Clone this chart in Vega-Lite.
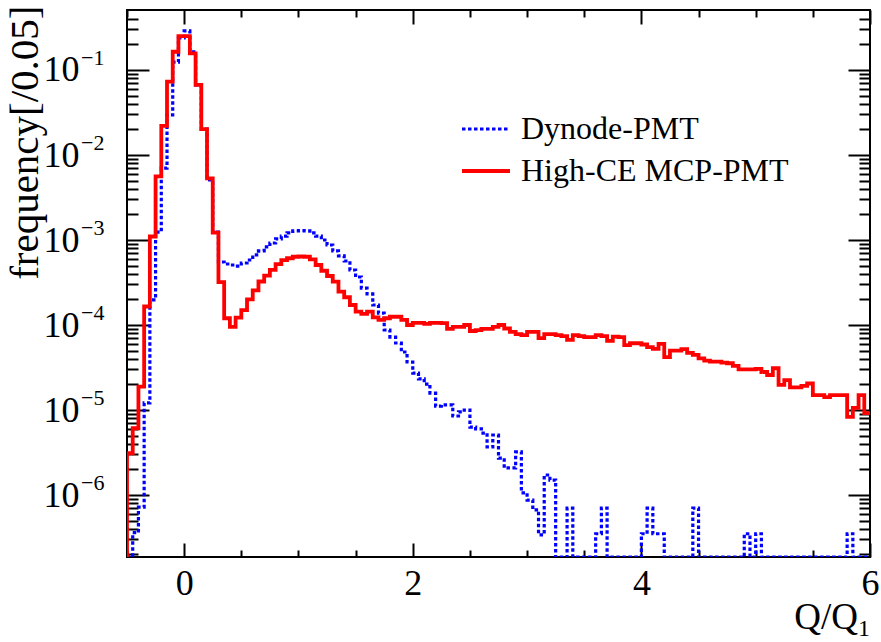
{
 "$schema":"https://vega.github.io/schema/vega-lite/v6.json",
 "width":743,"height":547,
 "autosize":{"type":"none"},
 "padding":{"left":127,"top":10,"right":11,"bottom":85},
 "background":"white",
 "config":{
  "view":{"stroke":"#000","strokeWidth":2},
  "font":"Liberation Serif",
  "axis":{"domain":false,"grid":false,"tickColor":"#000","tickWidth":2,"labelColor":"#000","labelFont":"Liberation Serif","labelFlush":false,"labelOverlap":false,"labelBound":false}
 },
 "datasets":{
  "hist":[
{"x":-0.5,"d":0,"h":0},
{"x":-0.5,"d":0,"h":3.1e-6},
{"x":-0.45,"d":3.6e-7,"h":6.1e-6},
{"x":-0.4,"d":7.2e-7,"h":1.88e-5},
{"x":-0.35,"d":1.21e-5,"h":1.65e-4},
{"x":-0.3,"d":1.97e-4,"h":1.1e-3},
{"x":-0.25,"d":1.24e-3,"h":5.6e-3},
{"x":-0.2,"d":7.0e-3,"h":0.022},
{"x":-0.15,"d":0.0296,"h":0.073},
{"x":-0.1,"d":0.124,"h":0.164},
{"x":-0.05,"d":0.238,"h":0.25},
{"x":0,"d":0.288,"h":0.25},
{"x":0.05,"d":0.163,"h":0.157},
{"x":0.1,"d":0.0667,"h":0.0667},
{"x":0.15,"d":0.0202,"h":0.0202},
{"x":0.2,"d":0.0051,"h":0.0053},
{"x":0.25,"d":0.00124,"h":0.00122},
{"x":0.3,"d":5.51e-4,"h":3.2e-4},
{"x":0.35,"d":5.22e-4,"h":1.2e-4},
{"x":0.4,"d":5.08e-4,"h":9.5e-5},
{"x":0.45,"d":4.94e-4,"h":1.22e-4},
{"x":0.5,"d":5.36e-4,"h":1.5e-4},
{"x":0.55,"d":5.82e-4,"h":2.0e-4},
{"x":0.6,"d":6.67e-4,"h":2.55e-4},
{"x":0.65,"d":7.43e-4,"h":3.25e-4},
{"x":0.7,"d":8.28e-4,"h":3.8e-4},
{"x":0.75,"d":9.22e-4,"h":4.45e-4},
{"x":0.8,"d":1.03e-3,"h":5.2e-4},
{"x":0.85,"d":1.11e-3,"h":5.8e-4},
{"x":0.9,"d":1.21e-3,"h":6.1e-4},
{"x":0.95,"d":1.28e-3,"h":6.35e-4},
{"x":1.0,"d":1.29e-3,"h":6.4e-4},
{"x":1.05,"d":1.28e-3,"h":6.35e-4},
{"x":1.1,"d":1.21e-3,"h":5.93e-4},
{"x":1.15,"d":1.11e-3,"h":5.08e-4},
{"x":1.2,"d":1.0e-3,"h":4.35e-4},
{"x":1.25,"d":8.73e-4,"h":3.77e-4},
{"x":1.3,"d":7.43e-4,"h":3.24e-4},
{"x":1.35,"d":6.49e-4,"h":2.47e-4},
{"x":1.4,"d":5.66e-4,"h":2.12e-4},
{"x":1.45,"d":4.44e-4,"h":1.72e-4},
{"x":1.5,"d":3.67e-4,"h":1.44e-4},
{"x":1.55,"d":2.72e-4,"h":1.35e-4},
{"x":1.6,"d":2.32e-4,"h":1.44e-4},
{"x":1.65,"d":1.72e-4,"h":1.23e-4},
{"x":1.7,"d":1.38e-4,"h":1.15e-4},
{"x":1.75,"d":8.73e-5,"h":1.2e-4},
{"x":1.8,"d":7.22e-5,"h":1.25e-4},
{"x":1.85,"d":6.14e-5,"h":1.25e-4},
{"x":1.9,"d":4.81e-5,"h":1.15e-4},
{"x":1.95,"d":3.67e-5,"h":1.0e-4},
{"x":2.0,"d":2.72e-5,"h":1.06e-4},
{"x":2.05,"d":2.32e-5,"h":1.06e-4},
{"x":2.1,"d":2.02e-5,"h":1.03e-4},
{"x":2.15,"d":1.58e-5,"h":1.06e-4},
{"x":2.2,"d":1.11e-5,"h":1.06e-4},
{"x":2.25,"d":1.15e-5,"h":1.05e-4},
{"x":2.3,"d":1.15e-5,"h":9.0e-5},
{"x":2.35,"d":8.5e-6,"h":9.5e-5},
{"x":2.4,"d":9.5e-6,"h":9.5e-5},
{"x":2.45,"d":1.0e-5,"h":1.0e-4},
{"x":2.5,"d":6.3e-6,"h":8.5e-5},
{"x":2.55,"d":6.0e-6,"h":8.7e-5},
{"x":2.6,"d":5.36e-6,"h":9.0e-5},
{"x":2.65,"d":3.67e-6,"h":9.0e-5},
{"x":2.7,"d":5.08e-6,"h":9.5e-5},
{"x":2.75,"d":2.72e-6,"h":1.0e-4},
{"x":2.8,"d":2.08e-6,"h":9.1e-5},
{"x":2.85,"d":2.08e-6,"h":8.3e-5},
{"x":2.9,"d":3.21e-6,"h":7.8e-5},
{"x":2.95,"d":1.06e-6,"h":7.6e-5},
{"x":3.0,"d":8.7e-7,"h":8.3e-5},
{"x":3.05,"d":6.7e-7,"h":8.3e-5},
{"x":3.1,"d":3.4e-7,"h":7.0e-5},
{"x":3.15,"d":1.72e-6,"h":7.8e-5},
{"x":3.2,"d":1.5e-6,"h":7.8e-5},
{"x":3.25,"d":0,"h":7.6e-5},
{"x":3.3,"d":0,"h":7.4e-5},
{"x":3.35,"d":7.0e-7,"h":6.7e-5},
{"x":3.4,"d":0,"h":7.6e-5},
{"x":3.45,"d":0,"h":7.4e-5},
{"x":3.5,"d":0,"h":7.2e-5},
{"x":3.55,"d":0,"h":7.2e-5},
{"x":3.6,"d":3.5e-7,"h":7.6e-5},
{"x":3.65,"d":7.0e-7,"h":7.4e-5},
{"x":3.7,"d":0,"h":6.5e-5},
{"x":3.75,"d":0,"h":7.3e-5},
{"x":3.8,"d":0,"h":7.2e-5},
{"x":3.85,"d":0,"h":5.8e-5},
{"x":3.9,"d":0,"h":6.1e-5},
{"x":3.95,"d":0,"h":6.1e-5},
{"x":4.0,"d":3.5e-7,"h":5.9e-5},
{"x":4.05,"d":7.0e-7,"h":5.5e-5},
{"x":4.1,"d":3.5e-7,"h":5.25e-5},
{"x":4.15,"d":3.5e-7,"h":6.0e-5},
{"x":4.2,"d":0,"h":4.2e-5},
{"x":4.25,"d":0,"h":5.0e-5},
{"x":4.3,"d":0,"h":5.0e-5},
{"x":4.35,"d":0,"h":5.2e-5},
{"x":4.4,"d":0,"h":4.7e-5},
{"x":4.45,"d":7.0e-7,"h":4.45e-5},
{"x":4.5,"d":0,"h":4.05e-5},
{"x":4.55,"d":0,"h":3.8e-5},
{"x":4.6,"d":0,"h":3.7e-5},
{"x":4.65,"d":0,"h":3.7e-5},
{"x":4.7,"d":0,"h":3.6e-5},
{"x":4.75,"d":0,"h":3.55e-5},
{"x":4.8,"d":0,"h":3.3e-5},
{"x":4.85,"d":0,"h":3.0e-5},
{"x":4.9,"d":3.5e-7,"h":3.0e-5},
{"x":4.95,"d":0,"h":3.0e-5},
{"x":5.0,"d":3.5e-7,"h":3.05e-5},
{"x":5.05,"d":0,"h":2.8e-5},
{"x":5.1,"d":0,"h":2.58e-5},
{"x":5.15,"d":0,"h":3.1e-5},
{"x":5.2,"d":0,"h":1.98e-5},
{"x":5.25,"d":0,"h":2.25e-5},
{"x":5.3,"d":0,"h":1.85e-5},
{"x":5.35,"d":0,"h":1.85e-5},
{"x":5.4,"d":0,"h":1.92e-5},
{"x":5.45,"d":0,"h":2.05e-5},
{"x":5.5,"d":0,"h":1.5e-5},
{"x":5.55,"d":0,"h":1.5e-5},
{"x":5.6,"d":0,"h":1.42e-5},
{"x":5.65,"d":0,"h":1.5e-5},
{"x":5.7,"d":0,"h":1.5e-5},
{"x":5.75,"d":0,"h":1.5e-5},
{"x":5.8,"d":3.5e-7,"h":8.3e-6},
{"x":5.85,"d":0,"h":1.06e-5},
{"x":5.9,"d":0,"h":1.5e-5},
{"x":5.95,"d":0,"h":9.2e-6},
{"x":6.0,"d":0,"h":9.2e-6}
  ],
  "exps":[{"v":0.1,"t":"−1"},{"v":0.01,"t":"−2"},{"v":0.001,"t":"−3"},{"v":0.0001,"t":"−4"},{"v":0.00001,"t":"−5"},{"v":0.000001,"t":"−6"}]
 },
 "layer":[
  {
   "data":{"name":"hist"},
   "transform":[{"fold":["d","h"],"as":["s","v"]}],
   "mark":{"type":"line","interpolate":"step-after","clip":true,"invalid":"show"},
   "encoding":{
    "x":{"field":"x","type":"quantitative","scale":{"domain":[-0.5,6],"nice":false,"zero":false},
      "axis":{"orient":"bottom","values":[-0.5,0,0.5,1,1.5,2,2.5,3,3.5,4,4.5,5,5.5,6],
        "labelExpr":"datum.value % 2 === 0 ? format(datum.value, 'd') : ''",
        "tickSize":{"condition":{"test":"datum.value % 2 === 0","value":-14},"value":-7},
        "labelFontSize":36,"labelPadding":23,"title":null}},
    "y":{"field":"v","type":"quantitative","scale":{"type":"log","domain":[1.865e-7,0.508],"nice":false,"clamp":true},
      "axis":{"orient":"left",
        "values":[2e-7,3e-7,4e-7,5e-7,6e-7,7e-7,8e-7,9e-7,1e-6,2e-6,3e-6,4e-6,5e-6,6e-6,7e-6,8e-6,9e-6,1e-5,2e-5,3e-5,4e-5,5e-5,6e-5,7e-5,8e-5,9e-5,1e-4,2e-4,3e-4,4e-4,5e-4,6e-4,7e-4,8e-4,9e-4,0.001,0.002,0.003,0.004,0.005,0.006,0.007,0.008,0.009,0.01,0.02,0.03,0.04,0.05,0.06,0.07,0.08,0.09,0.1,0.2,0.3,0.4],
        "labelExpr":"abs(log(datum.value)/LN10 - round(log(datum.value)/LN10)) < 0.001 ? '10' : ''",
        "tickSize":{"condition":{"test":"abs(log(datum.value)/LN10 - round(log(datum.value)/LN10)) < 0.001","value":-22},"value":-11},
        "labelFontSize":36,"labelPadding":70,
        "title":"frequency[/0.05]","titleFont":"Liberation Serif","titleFontSize":41,"titleFontWeight":"normal","titleColor":"#000",
        "titleAngle":-90,"titleAlign":"right","titleBaseline":"middle","titleX":-102,"titleY":-5}},
    "color":{"field":"s","type":"nominal","scale":{"domain":["d","h"],"range":["#0000ff","#ff0000"]},
      "legend":{"orient":"none","legendX":333,"legendY":93,"title":null,"symbolType":"stroke","symbolSize":2304,"symbolStrokeWidth":3.5,
        "labelFont":"Liberation Serif","labelFontSize":32,"labelColor":"#000","labelOffset":9,"labelLimit":0,"rowPadding":-2,"padding":0,
        "labelExpr":"datum.value == 'd' ? 'Dynode-PMT' : 'High-CE MCP-PMT'"}},
    "strokeDash":{"field":"s","type":"nominal","scale":{"domain":["d","h"],"range":[[3.5,2.5],[1,0]]},
      "legend":{"orient":"none","legendX":333,"legendY":93,"title":null,"symbolType":"stroke","symbolSize":2304,"symbolStrokeWidth":3.5,
        "labelFont":"Liberation Serif","labelFontSize":32,"labelColor":"#000","labelOffset":9,"labelLimit":0,"rowPadding":-2,"padding":0,
        "labelExpr":"datum.value == 'd' ? 'Dynode-PMT' : 'High-CE MCP-PMT'"}},
    "strokeWidth":{"field":"s","type":"nominal","scale":{"domain":["d","h"],"range":[3.2,3.8]},"legend":null}
   }
  },
  {
   "data":{"name":"exps"},
   "mark":{"type":"text","align":"left","baseline":"middle","dx":-46,"dy":-12,"fontSize":22,"font":"Liberation Serif","color":"#000"},
   "encoding":{
    "x":{"datum":-0.5,"type":"quantitative","scale":{"domain":[-0.5,6],"nice":false,"zero":false},
      "axis":{"orient":"top","values":[-0.5,0,0.5,1,1.5,2,2.5,3,3.5,4,4.5,5,5.5,6],"labels":false,
        "tickSize":{"condition":{"test":"datum.value % 2 === 0","value":-14},"value":-7},"title":null}},
    "y":{"field":"v","type":"quantitative","scale":{"type":"log","domain":[1.865e-7,0.508],"nice":false,"clamp":true},
      "axis":{"orient":"right",
        "values":[2e-7,3e-7,4e-7,5e-7,6e-7,7e-7,8e-7,9e-7,1e-6,2e-6,3e-6,4e-6,5e-6,6e-6,7e-6,8e-6,9e-6,1e-5,2e-5,3e-5,4e-5,5e-5,6e-5,7e-5,8e-5,9e-5,1e-4,2e-4,3e-4,4e-4,5e-4,6e-4,7e-4,8e-4,9e-4,0.001,0.002,0.003,0.004,0.005,0.006,0.007,0.008,0.009,0.01,0.02,0.03,0.04,0.05,0.06,0.07,0.08,0.09,0.1,0.2,0.3,0.4],
        "labels":false,
        "tickSize":{"condition":{"test":"abs(log(datum.value)/LN10 - round(log(datum.value)/LN10)) < 0.001","value":-22},"value":-11},
        "title":null}},
    "text":{"field":"t","type":"nominal"}
   }
  },
  {
   "data":{"values":[{}]},
   "mark":{"type":"text","text":"Q/Q","align":"right","baseline":"alphabetic","dx":-12,"dy":72,"fontSize":37,"font":"Liberation Serif","color":"#000"},
   "encoding":{
    "x":{"datum":6,"type":"quantitative","scale":{"domain":[-0.5,6],"nice":false,"zero":false},"axis":null},
    "y":{"datum":1.865e-7,"type":"quantitative","scale":{"type":"log","domain":[1.865e-7,0.508],"nice":false,"clamp":true},"axis":null}
   }
  },
  {
   "data":{"values":[{}]},
   "mark":{"type":"text","text":"1","align":"left","baseline":"alphabetic","dx":-12,"dy":79,"fontSize":24,"font":"Liberation Serif","color":"#000"},
   "encoding":{
    "x":{"datum":6,"type":"quantitative","scale":{"domain":[-0.5,6],"nice":false,"zero":false},"axis":null},
    "y":{"datum":1.865e-7,"type":"quantitative","scale":{"type":"log","domain":[1.865e-7,0.508],"nice":false,"clamp":true},"axis":null}
   }
  }
 ],
 "resolve":{"axis":{"x":"independent","y":"independent"}}
}
